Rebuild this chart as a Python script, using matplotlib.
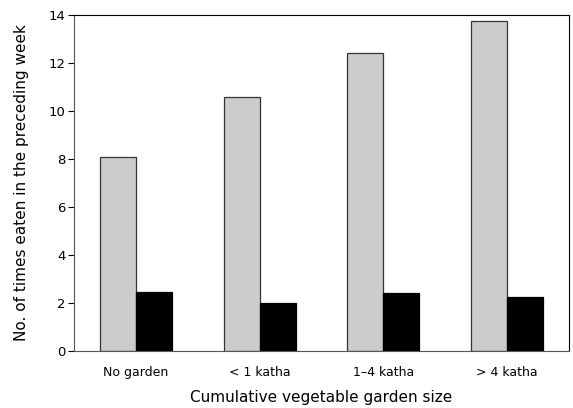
import numpy as np
import matplotlib.pyplot as plt

plt.rcParams['font.family'] = ['DejaVu Sans']

# DATA
categories = ["No garden", "< 1 katha", "1\u20134 katha", "> 4 katha"]
gray_values = [8.1, 10.6, 12.43, 13.76]
black_values = [2.47, 2.0, 2.4, 2.24]

x = np.arange(len(categories))
w = 0.29

fig = plt.figure(figsize=(5.73, 4.08), dpi=100)
ax = fig.add_axes([74 / 573, 1 - 351 / 408, 495 / 573, 336 / 408])

ax.bar(x - w / 2, gray_values, width=w, color="#cccccc", edgecolor="#333333", linewidth=0.9)
ax.bar(x + w / 2, black_values, width=w, color="black", edgecolor="black", linewidth=0.9)

ax.set_xlim(-0.5, 3.5)
ax.set_ylim(0, 14)
ax.set_yticks(range(0, 15, 2))
ax.set_xticks(x)
ax.set_xticklabels(categories)
ax.tick_params(axis="x", length=0, pad=11, labelsize=9)
ax.tick_params(axis="y", length=4, width=0.8, pad=2, labelsize=9.5)

for side in ["left", "bottom"]:
    ax.spines[side].set_color("#555555")
for side in ["top", "right"]:
    ax.spines[side].set_color("black")

ax.set_xlabel("Cumulative vegetable garden size", fontsize=11, labelpad=8)
ax.set_ylabel("No. of times eaten in the preceding week", fontsize=11, labelpad=14)

fig.savefig("out.png", dpi=100)
